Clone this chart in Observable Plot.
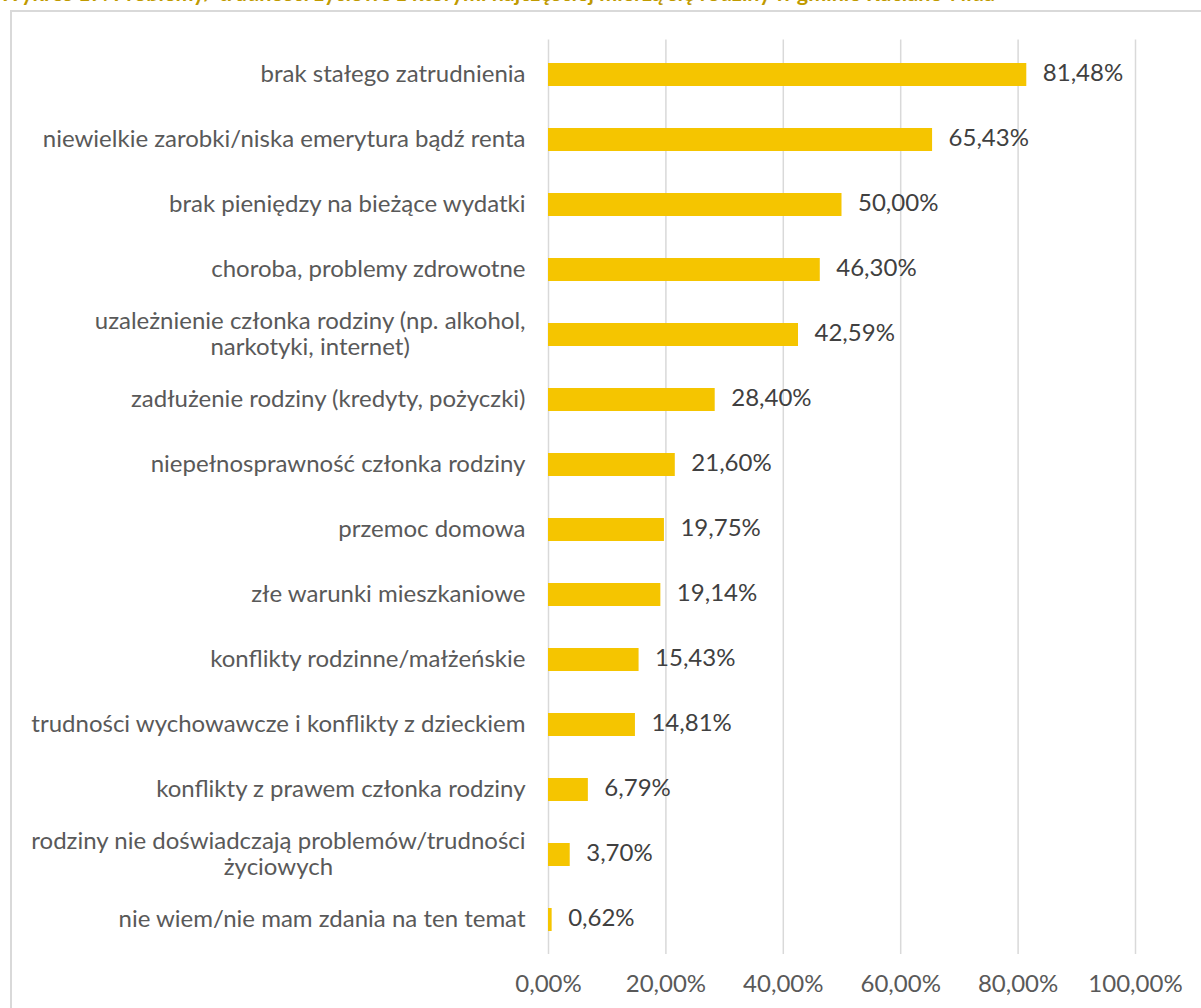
<!DOCTYPE html>
<html>
<head>
<meta charset="utf-8">
<script src="https://cdn.jsdelivr.net/npm/d3@7"></script>
<script src="https://cdn.jsdelivr.net/npm/@observablehq/plot@0.6"></script>
<style>
  html, body { margin: 0; padding: 0; background: #fff; overflow: hidden; }
  #wrap { position: relative; width: 1201px; height: 1008px; overflow: hidden; }
  #title { position: absolute; left: -1px; top: -18px; white-space: nowrap;
    font-family: Lato, sans-serif; font-weight: 700; font-size: 21.5px; line-height: 22px; color: #C09A00; }
  #frame { position: absolute; left: 10px; top: 10px; width: 1300px; height: 1100px;
    border: 2px solid #D9D9D9; box-sizing: border-box; }
  #chart { position: absolute; left: 0; top: 0; }
</style>
</head>
<body>
<div id="wrap">
  <div id="title">Wykres 17. Problemy/ trudności życiowe z którymi najczęściej mierzą się rodziny w gminie Ruciane-Nida</div>
  <div id="frame"></div>
  <div id="chart"></div>
</div>
<script>
const categories = [
  "brak stałego zatrudnienia",
  "niewielkie zarobki/niska emerytura bądź renta",
  "brak pieniędzy na bieżące wydatki",
  "choroba, problemy zdrowotne",
  "uzależnienie członka rodziny (np. alkohol,\nnarkotyki, internet)",
  "zadłużenie rodziny (kredyty, pożyczki)",
  "niepełnosprawność członka rodziny",
  "przemoc domowa",
  "złe warunki mieszkaniowe",
  "konflikty rodzinne/małżeńskie",
  "trudności wychowawcze i konflikty z dzieckiem",
  "konflikty z prawem członka rodziny",
  "rodziny nie doświadczają problemów/trudności\nżyciowych",
  "nie wiem/nie mam zdania na ten temat"
];
const values = [81.48, 65.43, 50.00, 46.30, 42.59, 28.40, 21.60, 19.75, 19.14, 15.43, 14.81, 6.79, 3.70, 0.62];
const xTicks = [0, 20, 40, 60, 80, 100];

const data = categories.map((c, i) => ({category: c, value: values[i]}));
const fmt = d => d.toFixed(2).replace(".", ",") + "%";

const plot = Plot.plot({
  width: 1201,
  height: 1008,
  marginLeft: 548,
  marginRight: 66,
  marginTop: 39.4,
  marginBottom: 54,
  style: {fontFamily: "Lato, sans-serif", fontSize: "24px", background: "transparent"},
  x: {domain: [0, 100], ticks: xTicks},
  y: {domain: categories, paddingInner: 0.65, paddingOuter: 0.325},
  marks: [
    Plot.ruleX(xTicks, {stroke: "#D9D9D9", strokeWidth: 1.5}),
    Plot.barX(data, {x: "value", y: "category", fill: "#F5C500"}),
    Plot.text(data, {x: "value", y: "category", text: d => fmt(d.value), textAnchor: "start", dx: 16, dy: -1.5, fill: "#404040", fontSize: 24}),
    Plot.axisX({ticks: xTicks, tickSize: 0, tickPadding: 20, tickFormat: fmt, fill: "#595959", fontSize: 24, label: null}),
    Plot.axisY({tickSize: 0, tickPadding: 23, dy: -1.5, fill: "#595959", fontSize: 24, label: null, lineHeight: 1.1})
  ]
});
document.getElementById("chart").appendChild(plot);

// center multi-line category labels like the reference
plot.querySelectorAll("g[aria-label='y-axis tick label'] text").forEach(t => {
  const spans = t.querySelectorAll("tspan");
  if (spans.length > 1) {
    let maxW = 0;
    spans.forEach(s => { maxW = Math.max(maxW, s.getComputedTextLength()); });
    t.setAttribute("text-anchor", "middle");
    const tr = t.getAttribute("transform") || "";
    t.setAttribute("transform", tr + ` translate(${-maxW / 2},0)`);
  }
});
</script>
</body>
</html>
